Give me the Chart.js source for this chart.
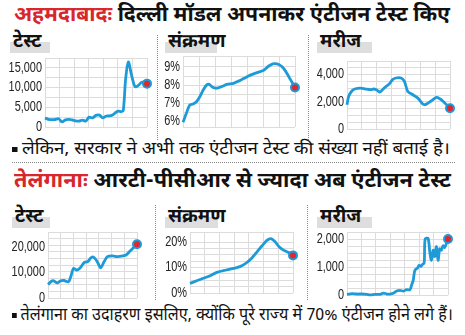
<!DOCTYPE html>
<html>
<head>
<meta charset="utf-8">
<script src="https://cdn.jsdelivr.net/npm/chart.js@4"></script>
<style>
  body { margin: 0; background: #fff; }
  #wrap { position: relative; width: 465px; height: 335px; overflow: hidden; background: #fff;
    font-family: "Noto Sans Devanagari", "Lohit Devanagari", "FreeSans", sans-serif; color: #111; }
  .abs { position: absolute; }
  .fit { transform-origin: 0 0; }
  .title { font-size: 21px; font-weight: bold; white-space: nowrap; line-height: 1; }
  .title .place { color: #d8262c; }
  .note { font-size: 17px; white-space: nowrap; line-height: 1; }
  .sq { display: inline-block; width: 5px; height: 5px; background: #111; margin-right: 4px; vertical-align: middle; }
  .tag { background: #dedede; height: 11px; }
  .tag span { position: absolute; left: 3px; top: -9px; font-size: 19px; font-weight: bold; line-height: 1; white-space: nowrap; }
  .vsep { border-left: 1px dotted #888; width: 0; }
  .hsep { border-top: 1px dotted #888; height: 0; }
  canvas { position: absolute; }
</style>
</head>
<body>
<div id="wrap">
  <div class="abs title fit" data-w="436" style="left:14px;top:6px"><span class="place">अहमदाबादः</span> दिल्ली मॉडल अपनाकर एंटीजन टेस्ट किए</div>

  <div class="abs tag" style="left:10px;top:42px;width:40px"><span>टेस्ट</span></div>
  <div class="abs tag" style="left:165px;top:42px;width:52px"><span>संक्रमण</span></div>
  <div class="abs tag" style="left:317px;top:42px;width:55px"><span>मरीज</span></div>
  <div class="abs vsep" style="left:157px;top:35px;height:105px"></div>
  <div class="abs vsep" style="left:308px;top:35px;height:105px"></div>

  <div class="abs note fit" data-w="438" style="left:12px;top:142px"><span class="sq"></span>लेकिन, सरकार ने अभी तक एंटीजन टेस्ट की संख्या नहीं बताई है।</div>
  <div class="abs hsep" style="left:12px;top:162px;width:443px"></div>

  <div class="abs title fit" data-w="437" style="left:14px;top:172px"><span class="place">तेलंगानाः</span> आरटी-पीसीआर से ज्यादा अब एंटीजन टेस्ट</div>

  <div class="abs tag" style="left:12px;top:217px;width:38px"><span>टेस्ट</span></div>
  <div class="abs tag" style="left:165px;top:217px;width:53px"><span>संक्रमण</span></div>
  <div class="abs tag" style="left:317px;top:217px;width:55px"><span>मरीज</span></div>
  <div class="abs vsep" style="left:155px;top:205px;height:95px"></div>
  <div class="abs vsep" style="left:307px;top:205px;height:95px"></div>

  <div class="abs note fit" data-w="441" style="left:12px;top:308px"><span class="sq"></span>तेलंगाना का उदाहरण इसलिए, क्योंकि पूरे राज्य में 70% एंटीजन होने लगे हैं।</div>

  <canvas id="c1"></canvas>
  <canvas id="c2"></canvas>
  <canvas id="c3"></canvas>
  <canvas id="c4"></canvas>
  <canvas id="c5"></canvas>
  <canvas id="c6"></canvas>
</div>

<script>
// Ahmedabad: daily tests
const ahmTestDay = [0, 1, 2, 3, 4, 5, 6, 7, 8, 9, 10, 11, 12, 13, 14, 15, 16, 17, 18, 19, 20, 21, 21.7, 22.3, 23, 23.7, 24.5, 25.5, 26.5, 27.5, 28.5, 30];
const ahmTests = [2300, 1950, 1850, 1900, 2100, 1300, 1800, 1950, 1800, 1550, 1500, 1750, 1500, 2500, 2300, 2950, 3000, 2300, 2800, 2850, 3100, 3800, 4000, 3900, 4100, 12000, 16500, 13000, 10200, 10600, 11400, 11000];

// Ahmedabad: positivity rate (%)
const ahmRateDay = [0, 1, 2, 3, 4, 5, 6, 7, 7.8, 8.8, 10, 11.5, 13, 15, 16.5, 18, 20, 22, 24, 25.5, 27, 28.5, 30, 31.5, 33.3];
const ahmRate = [5.96, 6.45, 6.9, 6.96, 7.09, 7.36, 7.73, 8.0, 8.04, 7.88, 7.83, 7.92, 8.04, 8.1, 8.22, 8.36, 8.55, 8.69, 8.82, 9.05, 9.18, 9.13, 8.9, 8.45, 7.87];

// Ahmedabad: new patients
const ahmCaseDay = [0, 0.5, 1.5, 2.5, 4, 5.5, 7, 8, 9, 9.7, 11, 12.5, 13.5, 14.5, 16, 17, 18, 19.5, 21, 22.5, 23.5, 25, 26.5, 27.5, 28.5, 29.5, 30.5];
const ahmCases = [1780, 2400, 2815, 2960, 3010, 2940, 2890, 2940, 2840, 2715, 3010, 3310, 3630, 3750, 3750, 3500, 2765, 2520, 2270, 1830, 1830, 2075, 2320, 2220, 2025, 1780, 1530];

// Telangana: daily tests
const tgTestDay = [0, 1, 1.7, 2.7, 3.7, 4.7, 6, 6.7, 7.5, 8.5, 9.5, 10.7, 11.7, 12.7, 13.5, 14.5, 15.5, 16.5, 17.5, 19, 20.5, 22, 23, 24, 25, 26.2];
const tgTests = [5300, 6620, 6750, 5960, 6750, 6890, 6360, 8340, 11650, 10990, 11920, 14040, 14300, 15890, 16030, 14300, 11920, 14300, 16290, 16560, 16290, 16560, 16950, 18280, 19600, 21190];

// Telangana: positivity rate (%)
const tgRateDay = [0, 2, 4, 6, 8, 10, 12, 14, 15.5, 17, 18.5, 20, 21.5, 23, 24.2, 25.5, 26.5, 27.5, 28.5, 29.5, 30.8];
const tgRate = [3.8, 4.8, 5.8, 6.8, 8.1, 8.8, 9.4, 10.0, 10.7, 12.0, 13.8, 16.1, 18.5, 20.7, 21.4, 20.1, 18.4, 17.3, 16.5, 15.9, 14.8];

// Telangana: new patients
const tgCaseDay = [0, 1.5, 3, 4.5, 6, 7, 8.5, 10, 11, 12, 13, 14, 15, 16, 17, 18, 19, 19.5, 20, 20.5, 21.3, 21.8, 22.3, 22.7, 23.3, 23.6, 24.5, 25, 25.5, 26, 26.5, 27, 27.5, 28, 28.5, 29, 29.5, 30.5];
const tgCases = [24, 47, 35, 35, 24, 5, 24, 24, 70, 35, 35, 60, 140, 165, 140, 190, 190, 350, 530, 880, 965, 1060, 1020, 1080, 1150, 2000, 2020, 1530, 1240, 1600, 1370, 1730, 1240, 1650, 1600, 1760, 1700, 2000];

const LINE = "#1d9ad8";
const DOT = "#e3262d";
const GRID = "#dcdcdc";
const AXIS_W = 44;
const PAD = 10;

const comma = (v) => v.toLocaleString("en-US");
const pct = (v) => v + "%";

// squeeze headings and notes to their column width
document.querySelectorAll(".fit").forEach((el) => {
  const w = el.getBoundingClientRect().width;
  el.style.transform = `scaleX(${el.dataset.w / w})`;
});

// y labels in a condensed face, placed by the y scale
const narrowLabels = {
  id: "narrowLabels",
  afterDraw(chart, args, opts) {
    const s = chart.scales.y;
    const ctx = chart.ctx;
    ctx.save();
    ctx.fillStyle = "#222";
    ctx.font = "14px 'Liberation Sans', Arial, sans-serif";
    ctx.textAlign = "right";
    ctx.textBaseline = "middle";
    for (let v = Math.ceil(s.min / opts.step) * opts.step; v <= s.max + 1e-9; v += opts.step) {
      const y = s.getPixelForValue(v);
      ctx.save();
      ctx.translate(chart.chartArea.left - 3, y);
      ctx.scale(0.78, 1);
      ctx.fillText(opts.fmt(Math.round(v * 100) / 100), 0, 0);
      ctx.restore();
    }
    ctx.restore();
  },
};

// area: chart area box in page pixels
function makeChart(id, area, xs, ys, y) {
  const canvas = document.getElementById(id);
  const w = area.right - area.left + AXIS_W + 6;
  const h = area.bottom - area.top + PAD * 2;
  canvas.style.left = (area.left - AXIS_W) + "px";
  canvas.style.top = (area.top - PAD) + "px";
  canvas.width = w;
  canvas.height = h;
  canvas.style.width = w + "px";
  canvas.style.height = h + "px";

  const last = xs.length - 1;
  return new Chart(canvas, {
    type: "line",
    data: {
      datasets: [{
        data: xs.map((x, i) => ({ x, y: ys[i] })),
        borderColor: LINE,
        borderWidth: 2.8,
        tension: 0.3,
        clip: false,
        pointRadius: (c) => (c.dataIndex === last ? 4 : 0),
        pointBackgroundColor: DOT,
        pointBorderColor: LINE,
        pointBorderWidth: 2,
      }],
    },
    plugins: [narrowLabels],
    options: {
      responsive: false,
      animation: false,
      layout: { padding: { top: PAD, bottom: PAD, left: 0, right: 6 } },
      plugins: {
        legend: { display: false },
        tooltip: { enabled: false },
        narrowLabels: { step: y.label, fmt: y.fmt },
      },
      scales: {
        x: {
          type: "linear",
          min: 0,
          max: xs[last],
          grid: { color: GRID, drawTicks: false },
          border: { display: false },
          ticks: { display: false, count: 8 },
          afterFit: (s) => { s.height = 0; },
        },
        y: {
          min: y.min,
          max: y.max,
          grid: { color: GRID, drawTicks: false },
          border: { display: false },
          ticks: { display: false, stepSize: y.step },
          afterFit: (s) => { s.width = AXIS_W; },
        },
      },
    },
  });
}

makeChart("c1", { left: 45, right: 147, top: 58, bottom: 127 }, ahmTestDay, ahmTests,
  { min: 0, max: 17500, step: 2500, label: 5000, fmt: comma });
makeChart("c2", { left: 183, right: 295, top: 56, bottom: 127 }, ahmRateDay, ahmRate,
  { min: 5.7, max: 9.6, step: 0.5, label: 1, fmt: pct });
makeChart("c3", { left: 347, right: 450, top: 61, bottom: 129 }, ahmCaseDay, ahmCases,
  { min: 0, max: 5000, step: 500, label: 2000, fmt: comma });

makeChart("c4", { left: 48, right: 137, top: 232, bottom: 298 }, tgTestDay, tgTests,
  { min: 0, max: 26000, step: 2500, label: 10000, fmt: comma });
makeChart("c5", { left: 190, right: 293, top: 232, bottom: 293 }, tgRateDay, tgRate,
  { min: 0, max: 24, step: 2.5, label: 10, fmt: pct });
makeChart("c6", { left: 347, right: 448, top: 232, bottom: 295 }, tgCaseDay, tgCases,
  { min: 0, max: 2250, step: 250, label: 1000, fmt: comma });
</script>
</body>
</html>
